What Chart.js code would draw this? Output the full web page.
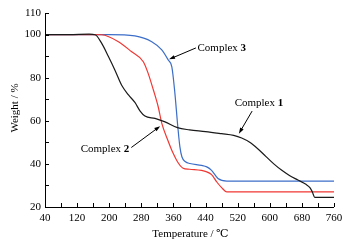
<!DOCTYPE html>
<html>
<head>
<meta charset="utf-8">
<script src="https://cdn.jsdelivr.net/npm/chart.js@4/dist/chart.umd.min.js"></script>
<style>
  html, body { margin: 0; padding: 0; background: #fff; }
  #wrap { width: 349px; height: 252px; }
</style>
</head>
<body>
<div id="wrap"><canvas id="myChart" width="349" height="252"></canvas></div>
<script>
// Complex 1 (black)
var temp1 = [40, 100, 150, 165, 181, 198, 214, 231, 248, 264, 277, 289, 314, 339, 370, 400, 440, 480, 510, 530, 550, 570, 590, 610, 630, 650, 670, 690, 700, 706, 712, 760];
var weight1 = [100, 100, 100.2, 99.9, 96, 89.8, 83.6, 76.5, 72, 68.5, 64.5, 62.2, 61.1, 59.5, 56.8, 55.8, 55, 54, 53.2, 52, 50, 47, 43.5, 40, 37, 34.5, 32.5, 30.5, 29, 27, 24.5, 24.5];
// Complex 2 (red)
var temp2 = [40, 100, 160, 181, 223, 256, 285, 297, 310, 322, 331, 346, 359, 370, 384, 400, 443, 455, 468, 480, 493, 760];
var weight2 = [100, 100, 100, 99.9, 96.7, 92, 87.4, 82, 74.3, 66.5, 58.8, 51, 45, 41, 38, 37.5, 36.3, 35, 31.6, 29, 27, 27];
// Complex 3 (blue)
var temp3 = [40, 100, 200, 264, 306, 331, 347, 356, 363, 371, 376, 381, 390, 401, 430, 443, 455, 471, 493, 760];
var weight3 = [100, 100, 100, 99.4, 96.7, 92.9, 88.2, 85, 74, 57, 48, 43.3, 41, 40.2, 39.3, 38.6, 37, 33.2, 32, 32];

var xTicks = [40, 120, 200, 280, 360, 440, 520, 600, 680, 760];
var yTicks = [20, 40, 60, 80, 100, 110];
var xMinor = [80, 160, 240, 320, 400, 480, 560, 640, 720];
var yMinor = [30, 50, 70, 90];

// labels: [text, bold number, text x, text y, arrow tail x, tail y, tip x, tip y] in data units
var notes = [
  ['Complex ', '3', 420, 93.8, 416, 93.8, 349, 88.5],
  ['Complex ', '1', 573, 68.2, 556, 64.5, 523, 54],
  ['Complex ', '2', 250, 46.9, 255, 47.6, 327, 57.5]
];
var noteAlign = ['left', 'center', 'right'];

function pts(t, w) {
  return t.map(function (v, i) { return {x: v, y: w[i]}; });
}

var serif = "'Liberation Serif', 'DejaVu Serif', serif";

var extras = {
  id: 'extras',
  afterDraw: function (chart) {
    var ctx = chart.ctx;
    var xs = chart.scales.x, ys = chart.scales.y;
    var a = chart.chartArea;
    ctx.save();
    ctx.strokeStyle = '#000';
    ctx.lineWidth = 1;
    ctx.beginPath();
    ctx.moveTo(a.left + 0.5, a.top);
    ctx.lineTo(a.left + 0.5, a.bottom + 0.5);
    ctx.lineTo(a.right, a.bottom + 0.5);
    xTicks.concat(xMinor).forEach(function (v) {
      var px = Math.round(xs.getPixelForValue(v)) + 0.5;
      ctx.moveTo(px, a.bottom);
      ctx.lineTo(px, a.bottom - 4);
    });
    yTicks.concat(yMinor).forEach(function (v) {
      var py = Math.round(ys.getPixelForValue(v)) + 0.5;
      ctx.moveTo(a.left, py);
      ctx.lineTo(a.left + 4, py);
    });
    ctx.stroke();

    // axis titles
    ctx.fillStyle = '#000';
    ctx.font = '11px ' + serif;
    ctx.textAlign = 'center';
    ctx.textBaseline = 'middle';
    ctx.fillText('Temperature / \u2103', (a.left + a.right) / 2 + 1, 234);
    ctx.save();
    ctx.translate(15, 108);
    ctx.rotate(-Math.PI / 2);
    ctx.fillText('Weight / %', 0, 0);
    ctx.restore();

    // annotations
    notes.forEach(function (n, i) {
      ctx.font = '11px ' + serif;
      var w1 = ctx.measureText(n[0]).width;
      ctx.font = 'bold 11px ' + serif;
      var w2 = ctx.measureText(n[1]).width;
      var tx = xs.getPixelForValue(n[2]), ty = ys.getPixelForValue(n[3]);
      var left = tx;
      if (noteAlign[i] === 'center') left = tx - (w1 + w2) / 2;
      if (noteAlign[i] === 'right') left = tx - (w1 + w2);
      ctx.textAlign = 'left';
      ctx.font = '11px ' + serif;
      ctx.fillText(n[0], left, ty);
      ctx.font = 'bold 11px ' + serif;
      ctx.fillText(n[1], left + w1, ty);

      var x0 = xs.getPixelForValue(n[4]), y0 = ys.getPixelForValue(n[5]);
      var x1 = xs.getPixelForValue(n[6]), y1 = ys.getPixelForValue(n[7]);
      var ang = Math.atan2(y1 - y0, x1 - x0);
      ctx.beginPath();
      ctx.moveTo(x0, y0);
      ctx.lineTo(x1 - 4 * Math.cos(ang), y1 - 4 * Math.sin(ang));
      ctx.lineWidth = 1;
      ctx.stroke();
      ctx.beginPath();
      ctx.moveTo(x1, y1);
      ctx.lineTo(x1 - 6 * Math.cos(ang) + 2 * Math.sin(ang), y1 - 6 * Math.sin(ang) - 2 * Math.cos(ang));
      ctx.lineTo(x1 - 6 * Math.cos(ang) - 2 * Math.sin(ang), y1 - 6 * Math.sin(ang) + 2 * Math.cos(ang));
      ctx.closePath();
      ctx.fill();
    });
    ctx.restore();
  }
};

var ctx = document.getElementById('myChart').getContext('2d');
var myChart = new Chart(ctx, {
  type: 'line',
  data: {
    datasets: [{
      label: 'Complex 1',
      data: pts(temp1, weight1),
      borderColor: '#1a1a1a',
      borderWidth: 1.2,
      pointRadius: 0,
      cubicInterpolationMode: 'monotone'
    }, {
      label: 'Complex 2',
      data: pts(temp2, weight2),
      borderColor: 'rgb(240, 55, 50)',
      borderWidth: 1.2,
      pointRadius: 0,
      cubicInterpolationMode: 'monotone'
    }, {
      label: 'Complex 3',
      data: pts(temp3, weight3),
      borderColor: 'rgb(60, 110, 200)',
      borderWidth: 1.2,
      pointRadius: 0,
      cubicInterpolationMode: 'monotone'
    }]
  },
  options: {
    responsive: false,
    animation: false,
    layout: { padding: { left: 0, right: 15, top: 13, bottom: 0 } },
    plugins: {
      legend: { display: false },
      tooltip: { enabled: false }
    },
    scales: {
      x: {
        type: 'linear',
        min: 40,
        max: 760,
        afterBuildTicks: function (s) { s.ticks = xTicks.map(function (v) { return {value: v}; }); },
        afterFit: function (s) { s.height = 45; },
        grid: { display: false, drawTicks: false },
        border: { display: false },
        ticks: { color: '#000', padding: 5, maxRotation: 0, font: { family: serif, size: 11 } }
      },
      y: {
        min: 20,
        max: 110,
        afterBuildTicks: function (s) { s.ticks = yTicks.map(function (v) { return {value: v}; }); },
        afterFit: function (s) { s.width = 45; },
        grid: { display: false, drawTicks: false },
        border: { display: false },
        ticks: { color: '#000', padding: 4, font: { family: serif, size: 11 } }
      }
    }
  },
  plugins: [extras]
});
</script>
</body>
</html>
